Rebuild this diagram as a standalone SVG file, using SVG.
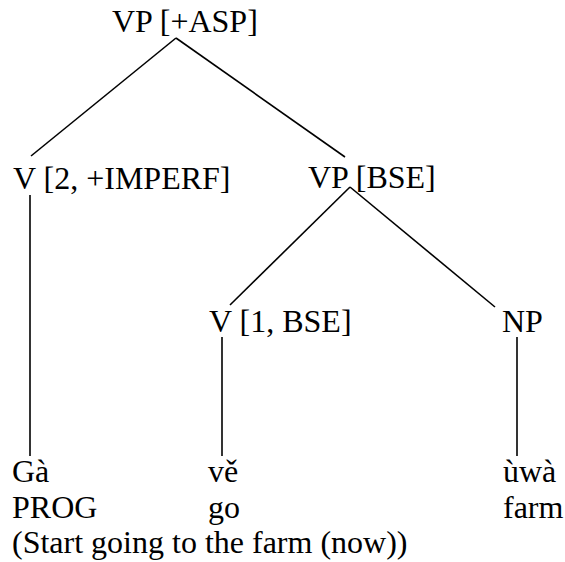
<svg xmlns="http://www.w3.org/2000/svg" width="565" height="562" viewBox="0 0 565 562">
<style>
text{font-family:"Liberation Serif","Times New Roman",serif;font-size:32px;fill:#000}
line{stroke:#000;stroke-width:1.6;fill:none}
</style>
<rect width="565" height="562" fill="#fff"/>
<g id="connectors">
<line x1="176" y1="38" x2="31" y2="156"/>
<line x1="176" y1="38" x2="345" y2="157"/>
<line x1="350" y1="187" x2="230" y2="305"/>
<line x1="350" y1="187" x2="495" y2="307"/>
<line x1="30" y1="195" x2="30" y2="456"/>
<line x1="222" y1="337" x2="222" y2="456"/>
<line x1="517" y1="337" x2="517" y2="456"/>
</g>
<g id="vp-asp"><text x="112" y="32">VP [+ASP]</text></g>
<g id="v-imperf"><text x="13" y="189">V [2, +IMPERF]</text></g>
<g id="vp-bse"><text x="308" y="188">VP [BSE]</text></g>
<g id="v-bse"><text x="209" y="332">V [1, BSE]</text></g>
<g id="np"><text x="502" y="332">NP</text></g>
<g id="ga"><text x="12" y="482">Gà</text><text x="12" y="518">PROG</text></g>
<g id="ve"><text x="208" y="482">vě</text><text x="208" y="518">go</text></g>
<g id="uwa"><text x="503" y="482">ùwà</text><text x="503" y="518">farm</text></g>
<g id="gloss"><text x="12" y="553">(Start going to the farm (now))</text></g>
</svg>
